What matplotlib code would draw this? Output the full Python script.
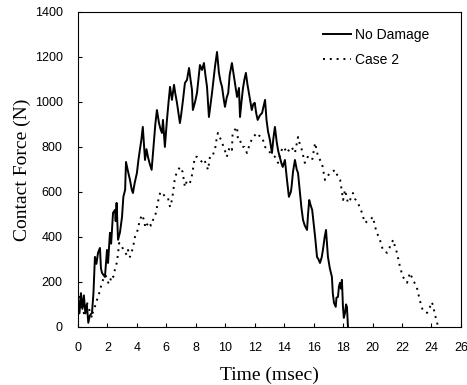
import numpy as np
import matplotlib.pyplot as plt


# Data
t_nodamage = [0.0, 0.1, 0.2, 0.3, 0.4, 0.5, 0.6, 0.7, 0.8, 0.95, 1.05, 1.15, 1.25, 1.36, 1.49,
              1.56, 1.63, 1.83, 1.97, 2.04, 2.17, 2.25, 2.38, 2.51, 2.56, 2.62, 2.72, 2.85, 2.99,
              3.08, 3.2, 3.26, 3.4, 3.53, 3.65, 3.73, 3.85, 4.0, 4.1, 4.2, 4.3, 4.4, 4.55, 4.65,
              4.75, 4.85, 5.0, 5.16, 5.25, 5.36, 5.5, 5.6, 5.7, 5.77, 5.9, 6.04, 6.15, 6.25, 6.38,
              6.52, 6.6, 6.72, 6.82, 6.92, 7.0, 7.13, 7.26, 7.4, 7.54, 7.64, 7.74, 7.8, 7.95, 8.08,
              8.18, 8.28, 8.42, 8.55, 8.65, 8.76, 8.89, 9.0, 9.1, 9.2, 9.3, 9.44, 9.57, 9.68, 9.78,
              9.9, 9.98, 10.1, 10.2, 10.3, 10.45, 10.55, 10.66, 10.8, 10.93, 11.0, 11.1, 11.2, 11.3,
              11.4, 11.5, 11.68, 11.8, 11.9, 12.0, 12.1, 12.2, 12.35, 12.5, 12.6, 12.7, 12.8, 12.9,
              13.03, 13.17, 13.27, 13.37, 13.5, 13.6, 13.7, 13.8, 13.9, 14.05, 14.19, 14.32, 14.45,
              14.5, 14.6, 14.73, 14.85, 14.94, 15.07, 15.17, 15.28, 15.4, 15.55, 15.62, 15.7, 15.8,
              15.9, 16.0, 16.1, 16.23, 16.33, 16.43, 16.55, 16.63, 16.75, 16.84, 16.97, 17.1, 17.24,
              17.3, 17.38, 17.5, 17.55, 17.65, 17.72, 17.79, 17.85, 17.92, 17.99, 18.05, 18.13,
              18.2, 18.26, 18.33]
f_nodamage = [130, 60, 150, 80, 140, 60, 100, 18, 50, 62, 150, 311, 280, 329, 351,
              260, 240, 222, 342, 284, 418, 370, 507, 520, 470, 551, 387, 420, 489,
              578, 609, 733, 690, 653, 610, 595, 640, 684, 740, 787, 830, 889, 742, 790,
              756, 730, 698, 831, 900, 964, 906, 880, 862, 920, 800, 920, 1000, 1067, 1009,
              1076, 1040, 996, 950, 906, 940, 1009, 1084, 1098, 1151, 1100, 1053, 964, 1000, 1040,
              1100, 1164, 1142, 1173, 1120, 1067, 933, 990, 1040, 1100, 1156, 1222, 1129, 1090, 1067,
              1010, 978, 1020, 1040, 1120, 1173, 1130, 1084, 1022, 1062, 933, 1000, 1060, 1100,
              1129, 1080, 1009, 964, 990, 996, 950, 920, 940, 951, 980, 1009, 920, 870,
              831, 773, 840, 889, 818, 780, 756, 730, 711, 742, 653, 578, 600,
              622, 690, 742, 700, 684, 595, 530, 475, 450, 431, 500, 564, 540,
              520, 460, 400, 311, 300, 284, 310, 342, 400, 431, 311, 260, 222,
              150, 107, 89, 130, 133, 180, 196, 170, 209, 89, 40, 62,
              100, 89, 0]

t_case2 = [0.0, 0.1, 0.2, 0.3, 0.4, 0.48, 0.6, 0.7, 0.85, 0.95, 1.0, 1.15, 1.29, 1.4, 1.5, 1.6,
           1.7, 1.85, 1.97, 2.08, 2.17, 2.3, 2.4, 2.5, 2.65, 2.8, 2.9, 2.99, 3.1, 3.2, 3.3, 3.4,
           3.53, 3.63, 3.73, 3.87, 4.0, 4.1, 4.2, 4.35, 4.48, 4.58, 4.68, 4.82, 4.95, 5.09, 5.23,
           5.36, 5.5, 5.6, 5.7, 5.8, 5.9, 6.0, 6.11, 6.25, 6.38, 6.45, 6.59, 6.75, 6.92, 7.1, 7.26,
           7.4, 7.6, 7.7, 7.8, 7.94, 8.08, 8.28, 8.49, 8.6, 8.76, 8.83, 8.96, 9.1, 9.3, 9.4, 9.5,
           9.65, 9.78, 9.95, 10.1, 10.3, 10.45, 10.5, 10.66, 10.8, 10.86, 11.0, 11.13, 11.3, 11.47,
           11.54, 11.7, 11.9, 12.15, 12.3, 12.5, 12.7, 12.9, 13.1, 13.37, 13.58, 13.7, 13.9, 14.05,
           14.2, 14.35, 14.5, 14.73, 14.94, 15.07, 15.2, 15.4, 15.6, 15.75, 15.9, 16.1, 16.3, 16.56,
           16.77, 16.95, 17.1, 17.3, 17.45, 17.6, 17.8, 18.0, 18.13, 18.33, 18.47, 18.67, 18.8,
           19.0, 19.15, 19.28, 19.48, 19.65, 19.82, 20.03, 20.15, 20.3, 20.5, 20.7, 20.85, 20.98,
           21.18, 21.4, 21.55, 21.66, 21.86, 22.06, 22.2, 22.34, 22.54, 22.74, 23.0, 23.2, 23.4,
           23.55, 23.7, 23.9, 24.0, 24.1, 24.24, 24.37, 24.45]
f_case2 = [100, 133, 80, 120, 60, 75, 110, 89, 60, 40, 62, 90, 120, 140, 164, 190,
           209, 230, 218, 190, 200, 230, 222, 253, 289, 373, 360, 356, 340, 333, 320, 342,
           311, 330, 351, 400, 418, 445, 475, 498, 475, 440, 453, 467, 450, 475, 489,
           533, 578, 600, 595, 590, 578, 578, 573, 533, 564, 595, 667, 690, 711, 690, 622,
           650, 640, 660, 698, 756, 756, 742, 729, 740, 711, 698, 756, 756, 787, 830, 862,
           840, 818, 790, 756, 800, 787, 862, 876, 889, 831, 831, 800, 800, 773,
           787, 820, 844, 862, 850, 844, 800, 787, 770, 756, 729, 760, 800, 790,
           773, 790, 800, 773, 844, 810, 787, 729, 756, 750, 742, 818, 756, 729,
           653, 670, 684, 690, 698, 675, 653, 564, 609, 551, 564, 595, 570,
           551, 530, 507, 462, 470, 475, 489, 450, 418, 387, 342, 335, 329,
           356, 387, 350, 329, 267, 222, 210, 196, 240, 209, 178, 120, 75,
           70, 62, 89, 110, 98, 53, 22, 0]

x_ticks = np.arange(0, 27, 2)
y_ticks = np.arange(0, 1401, 200)

fig = plt.figure(figsize=(4.67, 3.85), dpi=100)
ax = fig.add_axes([0.167, 0.151, 0.820, 0.818])

ax.plot(t_nodamage, f_nodamage, color="black", lw=1.4, label="No Damage")
ax.plot(t_case2, f_case2, color="black", lw=1.4, linestyle=(0, (1, 2.5)), label="Case 2")

ax.set_xlim(0, 26)
ax.set_ylim(0, 1400)
ax.set_xticks(x_ticks)
ax.set_yticks(y_ticks)
ax.tick_params(direction="in", length=3, width=0.8, pad=11, labelsize=9)
for lab in ax.get_xticklabels() + ax.get_yticklabels():
    lab.set_family("Liberation Sans")
for sp in ax.spines.values():
    sp.set_linewidth(0.8)

ax.set_xlabel("Time (msec)", family="Liberation Serif", fontsize=14, labelpad=9)
ax.set_ylabel("Contact Force (N)", family="Liberation Serif", fontsize=14, labelpad=3)

leg = ax.legend(loc="upper right", frameon=False, prop={"family": "Liberation Sans", "size": 10},
                handlelength=2.0, handletextpad=0.3, labelspacing=0.8,
                bbox_to_anchor=(0.95, 0.99))

plt.savefig("out.png", dpi=100)
